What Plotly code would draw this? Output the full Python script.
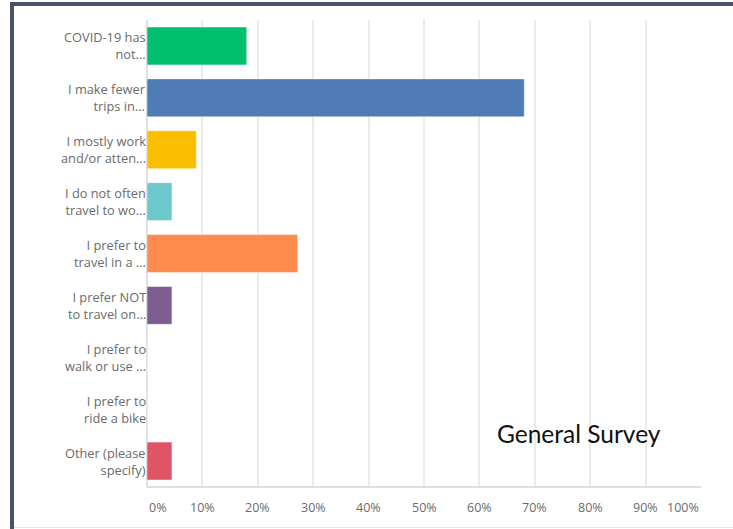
import plotly.graph_objects as go

# Survey answers (multiple selections allowed) and share of respondents, in %
categories = [
    "COVID-19 has<br>not...",
    "I make fewer<br>trips in...",
    "I mostly work<br>and/or atten...",
    "I do not often<br>travel to wo...",
    "I prefer to<br>travel in a ...",
    "I prefer NOT<br>to travel on...",
    "I prefer to<br>walk or use ...",
    "I prefer to<br>ride a bike",
    "Other (please<br>specify)",
]
values = [18.0, 68.1, 8.9, 4.5, 27.2, 4.5, 0.0, 0.0, 4.5]
bar_colors = ["#00bf6f", "#507cb6", "#f9be00", "#6bc8cd", "#ff8b4f",
              "#7d5e90", "#d25f90", "#468b94", "#e05566"]
tick_values = [0, 10, 20, 30, 40, 50, 60, 70, 80, 90, 100]
tick_labels = ["0%", "10%", "20%", "30%", "40%", "50%", "60%", "70%", "80%", "90%", "100%"]
caption = "General Survey"

W, H = 733, 529
L, R, T, B = 147, 32, 20, 42
pw, ph = W - L - R, H - T - B

def px_x(p):
    return (p - L) / pw

def px_y(p):
    return 1 - (p - T) / ph

label_font = dict(family="Open Sans, sans-serif", size=12.8, color="#6b6b6b")

fig = go.Figure(go.Bar(
    y=categories, x=values, orientation="h",
    marker=dict(color=bar_colors, line=dict(color="rgba(255,255,255,0.45)", width=1)),
    width=0.73, hoverinfo="skip",
))

annotations = []
# category labels, right aligned against the value axis
for c in categories:
    annotations.append(dict(
        xref="paper", yref="y", x=0, y=c, text=c, showarrow=False,
        xanchor="right", yanchor="middle", align="right", xshift=1,
        font=label_font,
    ))
# percent labels under the plot; the end labels stay inside the axis span
for v, t in zip(tick_values, tick_labels):
    anchor = "left" if v == tick_values[0] else ("right" if v == tick_values[-1] else "center")
    annotations.append(dict(
        xref="x", yref="paper", x=v, y=0, text=t, showarrow=False,
        xanchor=anchor, yanchor="middle", yshift=-20,
        font=dict(family="Open Sans, sans-serif", size=12.5, color="#6b6b6b"),
    ))
annotations.append(dict(
    xref="x", yref="paper", x=77.9, y=px_y(433), text=caption, showarrow=False,
    xanchor="center", yanchor="middle",
    font=dict(family="Lato, sans-serif", size=24.5, color="#111111"),
))

border = "#44546a"
shapes = [
    # surrounding frame
    dict(type="rect", xref="paper", yref="paper", x0=px_x(10), x1=px_x(14),
         y0=px_y(529), y1=px_y(2), fillcolor=border, line_width=0, layer="above"),
    dict(type="rect", xref="paper", yref="paper", x0=px_x(10), x1=px_x(733),
         y0=px_y(6), y1=px_y(2), fillcolor=border, line_width=0, layer="above"),
    dict(type="line", xref="paper", yref="paper", x0=px_x(14), x1=px_x(733),
         y0=px_y(527.5), y1=px_y(527.5), line=dict(color="#e6e6e6", width=1)),
    # value axis baseline and zero line
    dict(type="line", xref="paper", yref="paper", x0=0, x1=1, y0=0, y1=0,
         line=dict(color="#d4d4d4", width=1.5), layer="above"),
    dict(type="line", xref="paper", yref="paper", x0=0, x1=0, y0=0, y1=1,
         line=dict(color="#d4d4d4", width=1.5), layer="below"),
]

fig.update_layout(
    width=W, height=H,
    margin=dict(l=L, r=R, t=T, b=B, pad=0),
    paper_bgcolor="white", plot_bgcolor="white",
    showlegend=False,
    bargap=0.27,
    xaxis=dict(range=[0, 100], tickvals=tick_values, showticklabels=False,
               showgrid=True, gridcolor="#ebebeb", gridwidth=1.5,
               zeroline=False, showline=False, fixedrange=True),
    yaxis=dict(categoryorder="array", categoryarray=categories[::-1],
               showticklabels=False, showgrid=False, zeroline=False,
               showline=False, fixedrange=True),
    annotations=annotations,
    shapes=shapes,
)

fig.write_html("out.html", config={"displayModeBar": False})
